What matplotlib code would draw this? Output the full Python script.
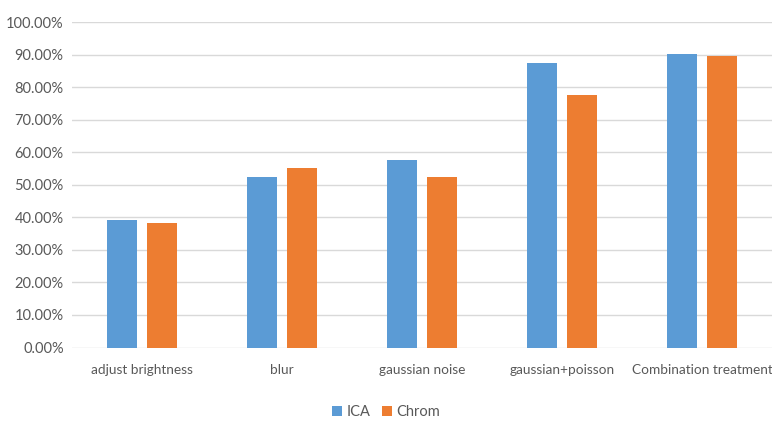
import matplotlib
matplotlib.use("Agg")
import matplotlib.pyplot as plt
import numpy as np
from matplotlib.ticker import FuncFormatter

categories = ["adjust brightness", "blur", "gaussian noise", "gaussian+poisson", "Combination treatment"]
ica = [39.3, 52.5, 57.6, 87.4, 90.3]
chrom = [38.2, 55.1, 52.5, 77.6, 89.6]
yticks = [0, 10, 20, 30, 40, 50, 60, 70, 80, 90, 100]

plt.rcParams['font.family'] = ['Lato', 'DejaVu Sans']

fig = plt.figure(figsize=(7.72, 4.21), dpi=100)
ax = fig.add_axes([72/772, 1-347.5/421, 1-72/772, (347.5-22)/421])

x = np.arange(len(categories))
w = 0.22
off = 0.143
ax.bar(x - off, ica, width=w, color="#5B9BD5", label="ICA", zorder=3)
ax.bar(x + off, chrom, width=w, color="#ED7D31", label="Chrom", zorder=3)

ax.set_xlim(-0.5, len(categories) - 0.5)
ax.set_ylim(0, 100)
ax.set_yticks(yticks)
ax.yaxis.set_major_formatter(FuncFormatter(lambda v, p: f"{v:.2f}%"))
ax.set_xticks(x)
ax.set_xticklabels(categories)
ax.grid(axis='y', color="#D9D9D9", linewidth=1, zorder=0)
for s in ax.spines.values():
    s.set_visible(False)
ax.tick_params(axis='both', length=0, colors="#595959", labelsize=10.5)
ax.tick_params(axis='x', pad=12, labelsize=9.8)
ax.tick_params(axis='y', pad=6)

fig.legend(loc='center', bbox_to_anchor=(0.5, 1-412/421), ncol=2, frameon=False,
           fontsize=10.5, handlelength=0.7, handleheight=0.7, columnspacing=0.8,
           handletextpad=0.3, labelcolor="#595959")

fig.savefig("out.png", dpi=100)
